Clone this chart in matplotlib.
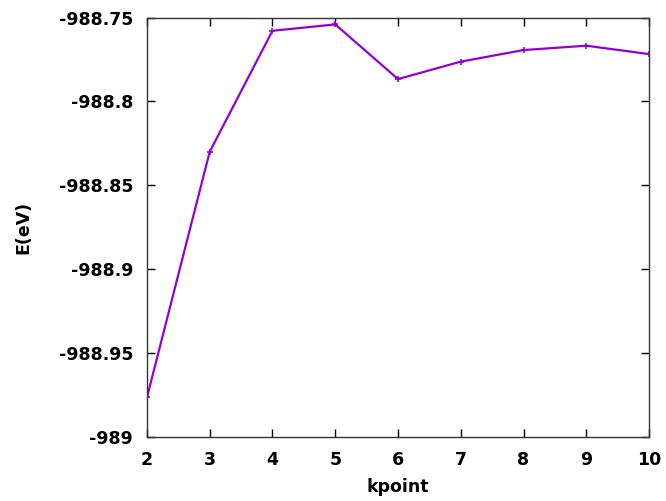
import matplotlib
matplotlib.use("Agg")
import matplotlib.pyplot as plt

kpoints = [2, 3, 4, 5, 6, 7, 8, 9, 10]
energy = [-988.9765, -988.8300, -988.7579, -988.7541, -988.7867,
          -988.7763, -988.7694, -988.7668, -988.7718]
yticks = [-989, -988.95, -988.9, -988.85, -988.8, -988.75]
ytick_labels = ["-989", "-988.95", "-988.9", "-988.85", "-988.8", "-988.75"]

fig = plt.figure(figsize=(6.66, 5.01), dpi=100)
ax = fig.add_axes([0.2207, 0.1283, 0.7538, 0.8367])
ax.plot(kpoints, energy, color="#9400D3", lw=1.6, marker="+", ms=5, mew=1.2)
ax.set_xlim(2, 10)
ax.set_ylim(-989, -988.75)
ax.set_xticks(kpoints)
ax.set_xticklabels([str(k) for k in kpoints], fontsize=12.5, fontweight="bold")
ax.set_yticks(yticks)
ax.set_yticklabels(ytick_labels, fontsize=12.5, fontweight="bold")
ax.tick_params(direction="in", top=True, right=True, length=6, width=1, pad=10)
for s in ax.spines.values():
    s.set_linewidth(1)
    s.set_color("#333333")
ax.set_xlabel("kpoint", fontsize=12.5, fontweight="bold", labelpad=7)
ax.set_ylabel("E(eV)", fontsize=12.5, fontweight="bold", labelpad=19)
fig.savefig("out.png", dpi=100)
